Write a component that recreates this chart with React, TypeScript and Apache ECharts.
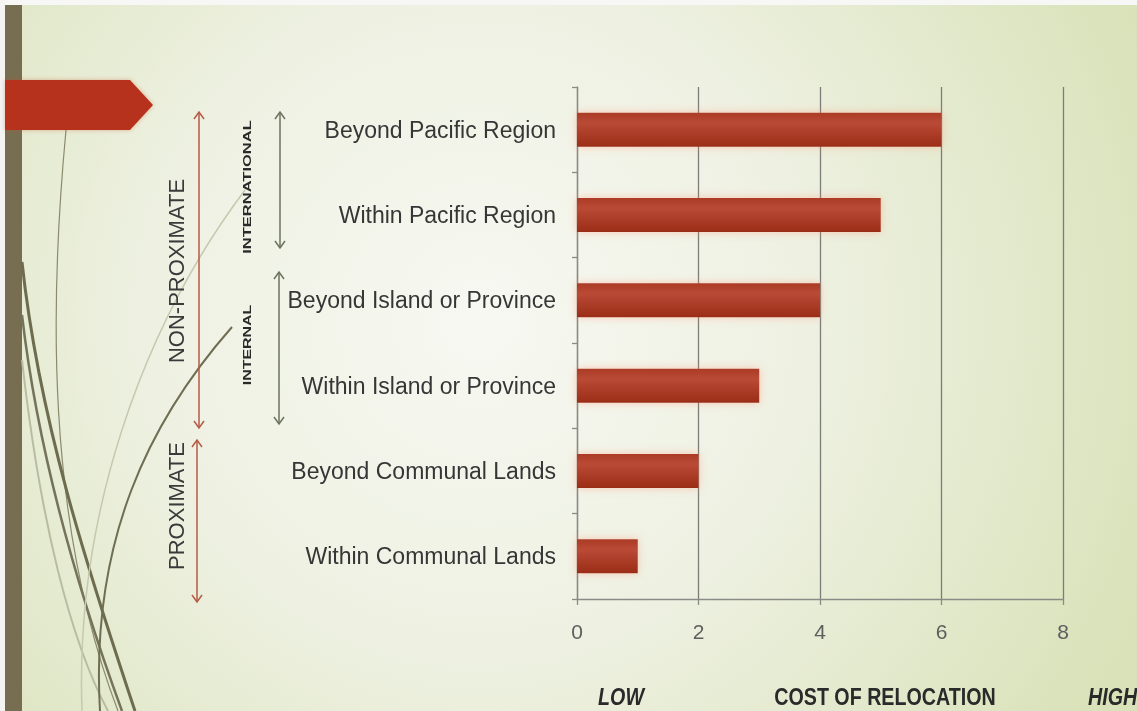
import React, { useEffect, useRef } from "react";
import * as echarts from "echarts";

const categories = [
  "Beyond Pacific Region",
  "Within Pacific Region",
  "Beyond Island or Province",
  "Within Island or Province",
  "Beyond Communal Lands",
  "Within Communal Lands",
];
const costValues = [6, 5, 4, 3, 2, 1];
const axisMin = 0;
const axisMax = 8;
const axisStep = 2;

const groupLabels = ["NON-PROXIMATE", "PROXIMATE"];
const subGroupLabels = ["INTERNATIONAL", "INTERNAL"];
const footerLabels = ["LOW", "COST OF RELOCATION", "HIGH"];

function arrow(x: number, y1: number, y2: number, color: string) {
  const w = 5;
  const h = 7;
  const style = { stroke: color, lineWidth: 1.5, fill: null };
  return [
    { type: "line", z: 10, shape: { x1: x, y1, x2: x, y2 }, style },
    { type: "polyline", z: 10, shape: { points: [[x - w, y1 + h], [x, y1], [x + w, y1 + h]] }, style },
    { type: "polyline", z: 10, shape: { points: [[x - w, y2 - h], [x, y2], [x + w, y2 - h]] }, style },
  ];
}

function curve(x1: number, y1: number, cpx1: number, cpy1: number, cpx2: number, cpy2: number, x2: number, y2: number, color: string, w: number) {
  return {
    type: "bezierCurve",
    z: 1,
    shape: { x1, y1, cpx1, cpy1, cpx2, cpy2, x2, y2 },
    style: { stroke: color, lineWidth: w, fill: null },
  };
}

function vtext(text: string, x: number, y: number, font: string, color: string, scaleX = 1) {
  return {
    type: "text",
    z: 10,
    x,
    y,
    rotation: Math.PI / 2,
    scaleX,
    style: { text, font, fill: color, align: "center", verticalAlign: "middle" },
  };
}

export default function App() {
  const ref = useRef<HTMLDivElement>(null);
  useEffect(() => {
    if (!ref.current) return;
    const chart = echarts.init(ref.current, null, { renderer: "svg" });
    const bg = new echarts.graphic.RadialGradient(480, 320, 720, [
      { offset: 0, color: "#f7f8f2" },
      { offset: 0.45, color: "#eef1e2" },
      { offset: 1, color: "#d9e2b9" },
    ], true);
    const barGrad = new echarts.graphic.LinearGradient(0, 0, 0, 1, [
      { offset: 0, color: "#ab3b25" },
      { offset: 0.3, color: "#b94a36" },
      { offset: 1, color: "#9b2d17" },
    ]);
    const footFont = "bold 24px 'Liberation Sans', Arial, sans-serif";
    const footItalic = "italic bold 24px 'Liberation Sans', Arial, sans-serif";
    const graphics: any[] = [
      { type: "rect", z: -10, shape: { x: 0, y: 0, width: 1137, height: 711 }, style: { fill: bg } },
      { type: "rect", z: 0, shape: { x: 0, y: 0, width: 1137, height: 5 }, style: { fill: "#f7f7f5" } },
      { type: "rect", z: 0, shape: { x: 0, y: 0, width: 5, height: 711 }, style: { fill: "#f4f4f2" } },
      { type: "rect", z: 0, shape: { x: 5, y: 5, width: 17, height: 706 }, style: { fill: "#776e52" } },
      curve(66, 130, 50, 300, 45, 520, 118, 711, "#8b8a6d", 1.2),
      curve(22, 262, 40, 430, 95, 590, 135, 711, "#6e6c4e", 3),
      curve(22, 315, 40, 470, 85, 610, 122, 711, "#75735a", 2.5),
      curve(22, 360, 40, 520, 70, 640, 108, 711, "#b9bca0", 2),
      curve(245, 190, 140, 330, 75, 520, 82, 711, "#c6c9ad", 1.5),
      curve(232, 327, 150, 420, 90, 540, 100, 711, "#6f6e52", 2),
      {
        type: "polygon",
        z: 5,
        shape: { points: [[5, 80], [130, 80], [153, 105], [130, 130], [5, 130]] },
        style: { fill: "#b7321b", shadowBlur: 4, shadowColor: "rgba(200,80,40,0.4)" },
      },
      ...arrow(199, 112, 428, "#b55a45"),
      ...arrow(197, 440, 602, "#b55a45"),
      ...arrow(280, 112, 248, "#6d725e"),
      ...arrow(279, 272, 424, "#6d725e"),
      vtext(groupLabels[0], 176, 271, "22px 'Liberation Sans', Arial, sans-serif", "#3a3a3a"),
      vtext(groupLabels[1], 176, 506, "22px 'Liberation Sans', Arial, sans-serif", "#3a3a3a"),
      vtext(subGroupLabels[0], 247, 187, "bold 11px 'Liberation Sans', Arial, sans-serif", "#2a2a2a", 1.5),
      vtext(subGroupLabels[1], 247, 345, "bold 11px 'Liberation Sans', Arial, sans-serif", "#2a2a2a", 1.45),
      {
        type: "text", z: 10, x: 621, y: 697, scaleX: 0.82,
        style: { text: footerLabels[0], font: footItalic, fill: "#2a2a2a", align: "center", verticalAlign: "middle" },
      },
      {
        type: "text", z: 10, x: 885, y: 697, scaleX: 0.82,
        style: { text: footerLabels[1], font: footFont, fill: "#2a2a2a", align: "center", verticalAlign: "middle" },
      },
      {
        type: "text", z: 10, x: 1088, y: 697, scaleX: 0.82,
        style: { text: footerLabels[2], font: footItalic, fill: "#2a2a2a", align: "left", verticalAlign: "middle" },
      },
    ];

    chart.setOption({
      animation: false,
      graphic: { elements: graphics },
      grid: { left: 577, right: 74, top: 87, bottom: 112, containLabel: false },
      xAxis: {
        type: "value",
        min: axisMin,
        max: axisMax,
        interval: axisStep,
        axisLine: { show: true, lineStyle: { color: "#8a8a86", width: 1.3 } },
        axisTick: { show: true, length: 6, lineStyle: { color: "#8a8a86", width: 1.3 } },
        axisLabel: {
          margin: 22,
          color: "#5e5e5e",
          fontSize: 21,
          fontFamily: "'Liberation Sans', Arial, sans-serif",
        },
        splitLine: { show: true, lineStyle: { color: "#7c7c78", width: 1.3 } },
      },
      yAxis: {
        type: "category",
        inverse: true,
        data: categories,
        axisLine: { show: true, lineStyle: { color: "#8a8a86", width: 1.3 } },
        axisTick: { show: true, length: 5, lineStyle: { color: "#8a8a86", width: 1.3 } },
        axisLabel: {
          margin: 21,
          color: "#363636",
          fontSize: 23,
          fontFamily: "'Liberation Sans', Arial, sans-serif",
        },
        splitLine: { show: false },
      },
      series: [
        {
          type: "bar",
          data: costValues,
          barWidth: 34,
          itemStyle: {
            color: barGrad,
            shadowBlur: 8,
            shadowColor: "rgba(255,140,110,0.45)",
          },
        },
      ],
    });
    return () => chart.dispose();
  }, []);
  return (
    <div
      ref={ref}
      style={{ position: "fixed", left: 0, top: 0, width: 1137, height: 711 }}
    />
  );
}
